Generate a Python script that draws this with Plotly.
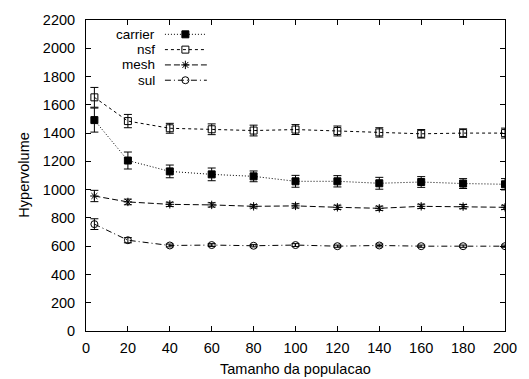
import plotly.graph_objects as go

pop = [4, 20, 40, 60, 80, 100, 120, 140, 160, 180, 200]

carrier = [1492, 1206, 1129, 1108, 1094, 1059, 1059, 1045, 1054, 1043, 1038]
carrier_err = [85, 60, 45, 45, 38, 42, 40, 42, 38, 35, 40]

nsf = [1653, 1485, 1434, 1427, 1418, 1425, 1415, 1405, 1395, 1400, 1400]
nsf_err = [70, 47, 35, 38, 38, 35, 35, 33, 30, 30, 35]

mesh = [955, 913, 896, 892, 882, 885, 875, 868, 882, 880, 875]
mesh_err = [40, 20, 15, 15, 12, 15, 15, 15, 15, 15, 15]

sul = [756, 642, 605, 608, 603, 608, 600, 605, 600, 600, 600]
sul_err = [38, 18, 10, 10, 8, 10, 8, 10, 8, 8, 8]

names = ["carrier", "nsf", "mesh", "sul"]
series = [carrier, nsf, mesh, sul]
errs = [carrier_err, nsf_err, mesh_err, sul_err]
dashes = ["1px,2px", "3px,3px", "6px,3px", "6px,3px,1px,3px"]
symbols = ["square", "square-open", "asterisk-open", "circle-open"]
sizes = [7, 7, 7, 7]

FONT = "Liberation Sans, Arial, sans-serif"
FS = 14.5
LEG_FS = 13.5

fig = go.Figure()
for name, ys, er, dash, sym, sz in zip(names, series, errs, dashes, symbols, sizes):
    fig.add_trace(go.Scatter(
        x=pop, y=ys, name=name, mode="lines+markers",
        line=dict(color="black", width=1, dash=dash),
        marker=dict(symbol=sym, size=sz, color="black",
                    line=dict(color="black", width=1)),
        error_y=dict(type="data", array=er, visible=True, color="black",
                     thickness=1, width=4),
        showlegend=False,
    ))

# gnuplot-style legend (text on the left, sample on the right), drawn on an overlay axis in pixel units
leg_y = [30.5, 46, 61.5, 77]
for name, ly, dash, sym, sz in zip(names, leg_y, dashes, symbols, sizes):
    fig.add_trace(go.Scatter(
        x=[167, 210], y=[ly, ly], mode="lines", xaxis="x2", yaxis="y2",
        line=dict(color="black", width=1, dash=dash), showlegend=False, hoverinfo="skip"))
    fig.add_trace(go.Scatter(
        x=[188], y=[ly], mode="markers", xaxis="x2", yaxis="y2",
        marker=dict(symbol=sym, size=sz, color="black", line=dict(color="black", width=1)),
        showlegend=False, hoverinfo="skip"))
    fig.add_annotation(x=158, y=ly, xref="x2", yref="y2", text=name, showarrow=False,
                       xanchor="right", yanchor="middle", borderpad=0,
                       font=dict(size=LEG_FS, family=FONT, color="black"))

axis_common = dict(showline=True, linecolor="black", linewidth=1, mirror="allticks",
                   ticks="inside", ticklen=5, tickcolor="black", showgrid=False,
                   zeroline=False, tickfont=dict(size=FS, family=FONT, color="black"))

fig.update_layout(
    width=529, height=379,
    margin=dict(l=86, r=13, t=16, b=48),
    paper_bgcolor="white", plot_bgcolor="white",
    font=dict(family=FONT, size=FS, color="black"),
    xaxis=dict(range=[0, 200], tickvals=list(range(0, 201, 20)), ticklabelstandoff=4, **axis_common),
    yaxis=dict(range=[0, 2200], tickvals=list(range(0, 2201, 200)), ticklabelstandoff=7, **axis_common),
    xaxis2=dict(overlaying="x", range=[86, 516], visible=False),
    yaxis2=dict(overlaying="y", range=[331, 16], visible=False),
)

fig.add_annotation(x=0.5, y=-0.122, xref="paper", yref="paper", text="Tamanho da populacao",
                   showarrow=False, xanchor="center", yanchor="middle",
                   font=dict(size=FS, family=FONT, color="black"))
fig.add_annotation(x=-0.15, y=0.5, xref="paper", yref="paper", text="Hypervolume",
                   showarrow=False, textangle=-90, xanchor="center", yanchor="middle",
                   font=dict(size=FS, family=FONT, color="black"))

fig.write_html("out.html")
